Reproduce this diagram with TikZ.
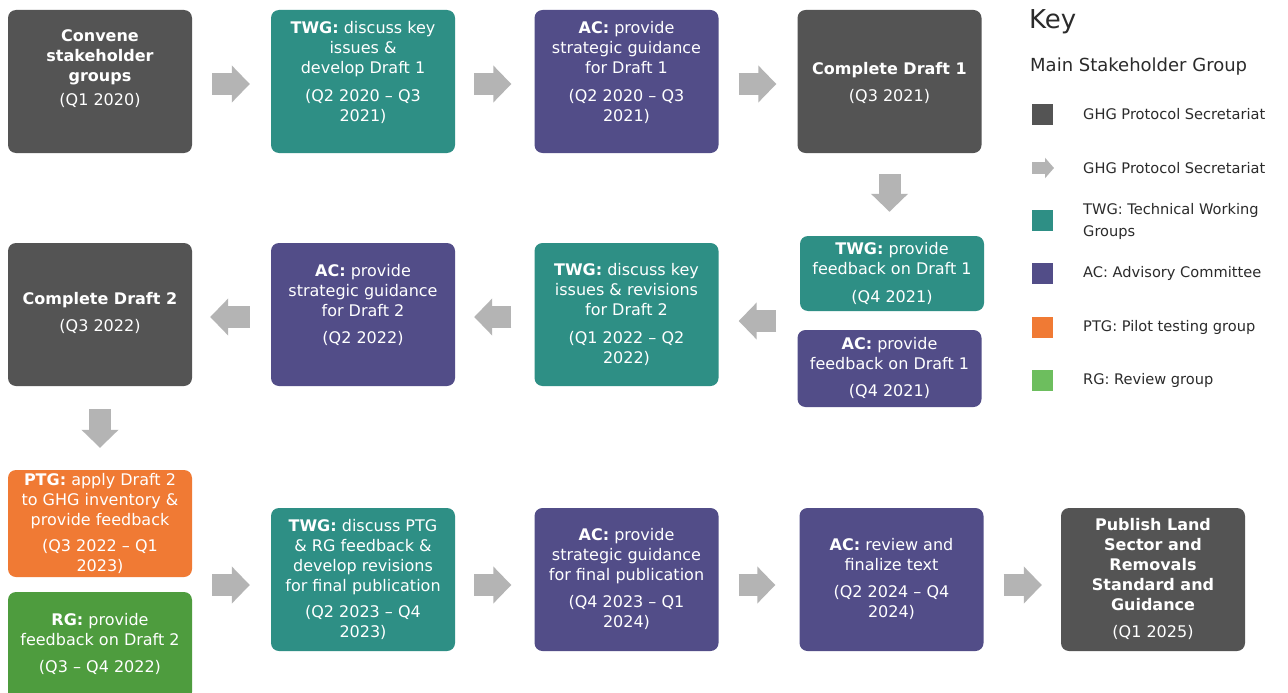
\documentclass[tikz,border=0pt]{standalone}
\usepackage{fontspec}
\setmainfont{DejaVu Sans}
\usetikzlibrary{arrows.meta}
\definecolor{sec}{HTML}{545454}
\definecolor{twg}{HTML}{2E8F85}
\definecolor{acc}{HTML}{524D88}
\definecolor{ptg}{HTML}{F07A34}
\definecolor{rgc}{HTML}{4E9C3E}
\definecolor{rgkey}{HTML}{6DBE5E}
\definecolor{arr}{HTML}{B4B4B4}
\definecolor{keytext}{HTML}{2B2B2B}
\begin{document}
\begin{tikzpicture}[x=1pt,y=-1pt,
  box/.style={rounded corners=8pt, minimum width=184pt, inner sep=0pt, draw=none},
  txt/.style={text=white, align=center, font=\fontsize{16}{20}\selectfont, inner sep=0pt},
  blockarrow/.style={draw=arr, line width=22pt, -{Triangle[length=18pt,width=36pt]}},
  keyarrow/.style={draw=arr, line width=12pt, -{Triangle[length=9pt,width=20pt]}},
  keysq/.style={minimum size=21pt, inner sep=0pt, draw=none},
  keylbl/.style={anchor=west, text=keytext, align=left, font=\fontsize{14.6}{22}\selectfont, inner sep=0pt},
]
\useasboundingbox (0,0) rectangle (1288,693);
\fill[white] (0,0) rectangle (1288,693);
\clip (0,0) rectangle (1288,693);

% ---- row 1
\node[box, fill=sec, minimum height=143pt] (b1) at (100,81.5) {};
\node[box, fill=twg, minimum height=143pt] (b2) at (363,81.5) {};
\node[box, fill=acc, minimum height=143pt] (b3) at (626.5,81.5) {};
\node[box, fill=sec, minimum height=143pt] (b4) at (889.5,81.5) {};
\node[txt] (b1t) at (100,69) {\textbf{Convene}\\\textbf{stakeholder}\\\textbf{groups}\\[4pt](Q1 2020)};
\node[txt] (b2t) at (363,72.5) {\textbf{TWG:} discuss key\\issues \&\\develop Draft 1\\[8pt](Q2 2020 – Q3\\2021)};
\node[txt] (b3t) at (626.5,72.5) {\textbf{AC:} provide\\strategic guidance\\for Draft 1\\[8pt](Q2 2020 – Q3\\2021)};
\node[txt] (b4t) at (889.5,82.5) {\textbf{Complete Draft 1}\\[7pt](Q3 2021)};

% ---- row 2
\node[box, fill=sec, minimum height=143pt] (cd2) at (100,314.5) {};
\node[box, fill=acc, minimum height=143pt] (ac2) at (363,314.5) {};
\node[box, fill=twg, minimum height=143pt] (twgd) at (626.5,314.5) {};
\node[box, fill=twg, minimum height=75pt] (twgf) at (892,273.5) {};
\node[box, fill=acc, minimum height=77pt] (acf) at (889.5,368.5) {};
\node[txt] (cd2t) at (100,313) {\textbf{Complete Draft 2}\\[7pt](Q3 2022)};
\node[txt] (ac2t) at (363,304.5) {\textbf{AC:} provide\\strategic guidance\\for Draft 2\\[7pt](Q2 2022)};
\node[txt] (twgdt) at (626.5,314.5) {\textbf{TWG:} discuss key\\issues \& revisions\\for Draft 2\\[8pt](Q1 2022 – Q2\\2022)};
\node[txt] (twgft) at (892,273) {\textbf{TWG:} provide\\feedback on Draft 1\\[8pt](Q4 2021)};
\node[txt] (acft) at (889.5,368) {\textbf{AC:} provide\\feedback on Draft 1\\[7pt](Q4 2021)};

% ---- row 3
\node[box, fill=ptg, minimum height=107pt] (ptgb) at (100,523.5) {};
\node[box, fill=rgc, minimum height=108pt] (rgb) at (100,646) {};
\node[box, fill=twg, minimum height=143pt] (twg3) at (363,579.5) {};
\node[box, fill=acc, minimum height=143pt] (ac3) at (626.5,579.5) {};
\node[box, fill=acc, minimum height=143pt] (acr) at (891.5,579.5) {};
\node[box, fill=sec, minimum height=143pt] (pub) at (1153,579.5) {};
\node[txt] (ptgt) at (100,523) {\textbf{PTG:} apply Draft 2\\to GHG inventory \&\\provide feedback\\[6pt](Q3 2022 – Q1\\2023)};
\node[txt] (rgt) at (100,643.5) {\textbf{RG:} provide\\feedback on Draft 2\\[7pt](Q3 – Q4 2022)};
\node[txt] (twg3t) at (363,579.5) {\textbf{TWG:} discuss PTG\\\& RG feedback \&\\develop revisions\\for final publication\\[6pt](Q2 2023 – Q4\\2023)};
\node[txt] (ac3t) at (626.5,579) {\textbf{AC:} provide\\strategic guidance\\for final publication\\[7pt](Q4 2023 – Q1\\2024)};
\node[txt] (acrt) at (891.5,579) {\textbf{AC:} review and\\finalize text\\[7pt](Q2 2024 – Q4\\2024)};
\node[txt] (pubt) at (1153,578.5) {\textbf{Publish Land}\\\textbf{Sector and}\\\textbf{Removals}\\\textbf{Standard and}\\\textbf{Guidance}\\[7pt](Q1 2025)};

% ---- connectors
\draw[blockarrow, shorten <=20pt, shorten >=21pt] ([yshift=-2.5pt]b1.east) -- ([yshift=-2.5pt]b2.west);
\draw[blockarrow, shorten <=19pt, shorten >=23pt] ([yshift=-2.5pt]b2.east) -- ([yshift=-2.5pt]b3.west);
\draw[blockarrow, shorten <=20pt, shorten >=21pt] ([yshift=-2.5pt]b3.east) -- ([yshift=-2.5pt]b4.west);
\draw[blockarrow, shorten <=21pt, shorten >=24pt] (b4.south) -- (b4.south |- twgf.north);
\coordinate (fbmid) at (797,321);
\draw[blockarrow, shorten <=21pt, shorten >=20pt] (fbmid) -- (fbmid -| twgd.east);
\draw[blockarrow, shorten <=23pt, shorten >=19pt] ([yshift=-2.5pt]twgd.west) -- ([yshift=-2.5pt]ac2.east);
\draw[blockarrow, shorten <=21pt, shorten >=18pt] ([yshift=-2.5pt]ac2.west) -- ([yshift=-2.5pt]cd2.east);
\draw[blockarrow, shorten <=23pt, shorten >=22pt] (cd2.south) -- (cd2.south |- ptgb.north);
\coordinate (pr) at (192,585);
\draw[blockarrow, shorten <=20pt, shorten >=21pt] (pr) -- (pr -| twg3.west);
\draw[blockarrow, shorten <=19pt, shorten >=23pt] ([yshift=-5.5pt]twg3.east) -- ([yshift=-5.5pt]ac3.west);
\draw[blockarrow, shorten <=20pt, shorten >=24pt] ([yshift=-5.5pt]ac3.east) -- ([yshift=-5.5pt]acr.west);
\draw[blockarrow, shorten <=20pt, shorten >=19pt] ([yshift=-5.5pt]acr.east) -- ([yshift=-5.5pt]pub.west);

% ---- key
\node[anchor=west, inner sep=0pt, text=keytext, font=\fontsize{26}{30}\selectfont] (key) at (1029,22) {Key};
\node[anchor=west, inner sep=0pt, text=keytext, font=\fontsize{18}{22}\selectfont] (msg) at (1030,67) {Main Stakeholder Group};
\node[keysq, fill=sec] (k1) at (1042.5,114.5) {};
\coordinate (ka1) at (1032,168);
\coordinate (ka2) at (1054,168);
\draw[keyarrow] (ka1) -- (ka2);
\node[keysq, fill=twg] (k3) at (1042.5,220.5) {};
\node[keysq, fill=acc] (k4) at (1042.5,273.5) {};
\node[keysq, fill=ptg] (k5) at (1042.5,327.5) {};
\node[keysq, fill=rgkey] (k6) at (1042.5,380.5) {};
\node[keylbl] (l1) at (1083,114) {GHG Protocol Secretariat};
\node[keylbl] (l2) at (1083,168) {GHG Protocol Secretariat};
\node[keylbl] (l3) at (1083,221) {TWG: Technical Working\\Groups};
\node[keylbl] (l4) at (1083,273) {AC: Advisory Committee};
\node[keylbl] (l5) at (1083,327) {PTG: Pilot testing group};
\node[keylbl] (l6) at (1083,380) {RG: Review group};
\end{tikzpicture}
\end{document}
